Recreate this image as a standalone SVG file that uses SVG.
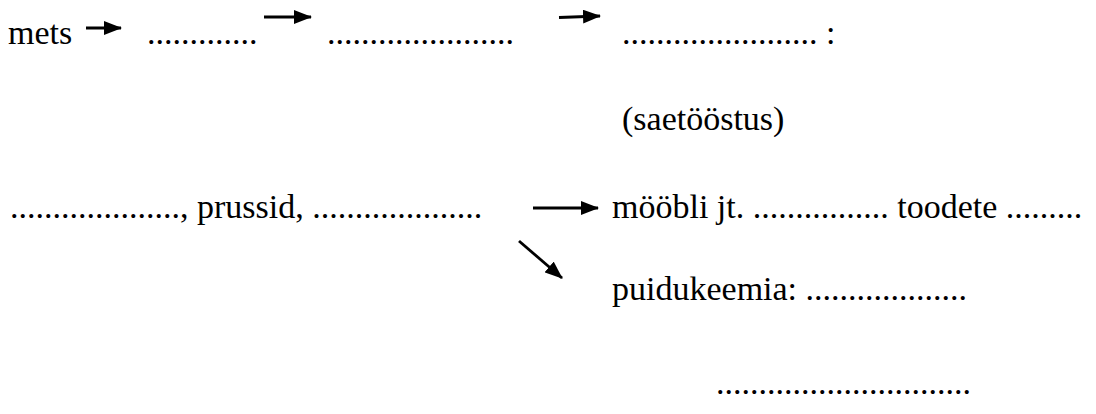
<svg xmlns="http://www.w3.org/2000/svg" width="1096" height="414" viewBox="0 0 1096 414">
<style>
.t{font-family:"Liberation Serif","Times New Roman","DejaVu Serif",serif;font-size:34px;fill:#000}
.c{stroke:#000;stroke-width:2.8;fill:none;marker-end:url(#ah)}
</style>
<defs>
<marker id="ah" markerUnits="userSpaceOnUse" viewBox="0 0 18 14" markerWidth="18" markerHeight="14" refX="17" refY="7" orient="auto">
<path d="M0,0 L18,7 L0,14 z" fill="#000"/>
</marker>
</defs>
<rect width="1096" height="414" fill="#fff"/>
<g id="connectors">
<line class="c" x1="86" y1="28" x2="121" y2="28"/>
<line class="c" x1="264" y1="17" x2="311" y2="17"/>
<line class="c" x1="559" y1="17.5" x2="600" y2="16"/>
<line class="c" x1="533" y1="208" x2="598" y2="208"/>
<line class="c" x1="519" y1="241" x2="562" y2="278"/>
</g>
<g class="t">
<g id="n-mets"><text class="t" x="8" y="44">mets</text></g>
<g id="n-blank1"><text class="t" x="147" y="44">.............</text></g>
<g id="n-blank2"><text class="t" x="327" y="44">......................</text></g>
<g id="n-blank3"><text class="t" x="622" y="44">....................... :</text></g>
<g id="n-saetoostus"><text class="t" x="622" y="130">(saetööstus)</text></g>
<g id="n-prussid"><text class="t" x="10" y="218">...................., prussid, ....................</text></g>
<g id="n-moobli"><text class="t" x="612" y="218">mööbli jt. ................ toodete .........</text></g>
<g id="n-puidukeemia"><text class="t" x="612" y="300">puidukeemia: ...................</text></g>
<g id="n-blank4"><text class="t" x="716" y="394">..............................</text></g>
</g>
</svg>
